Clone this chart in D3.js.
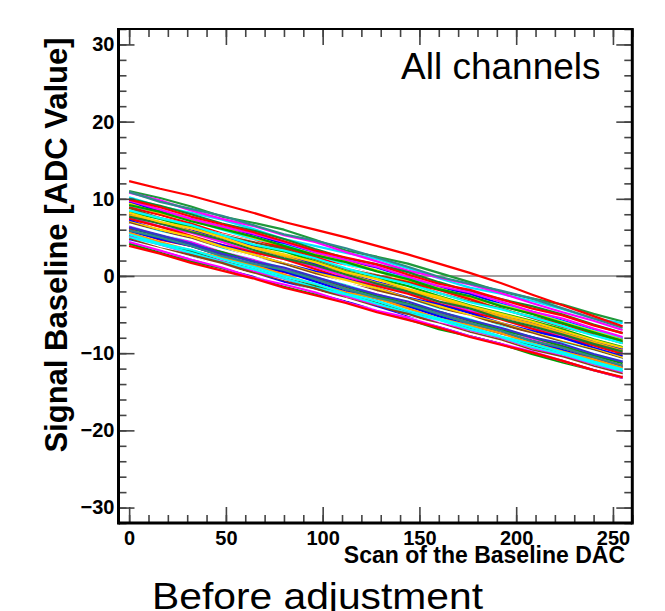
<!DOCTYPE html>
<html>
<head>
<meta charset="utf-8">
<script src="https://cdn.jsdelivr.net/npm/d3@7"></script>
<style>
  html, body { margin: 0; padding: 0; background: #fff; }
  svg { display: block; }
  text { font-family: "Liberation Sans", Arial, Helvetica, sans-serif; }
</style>
</head>
<body>
<svg id="chart" width="665" height="611"></svg>
<script>
// ---- data ----
const dacPoints = [0, 16, 32, 48, 64, 80, 96, 112, 128, 144, 160, 176, 192, 208, 224, 240, 255];
const xMajorTicks = [0, 50, 100, 150, 200, 250];
const yMajorTicks = [-30, -20, -10, 0, 10, 20, 30];
const channelColors = [
  "#1f9a3a", "#00e5ff", "#ff00ff", "#2e8b8b", "#138a2e", "#0000ff", "#00ffff", "#ffd000",
  "#ff0000", "#ff00ff", "#ffffff", "#8b4513", "#00b000", "#0000ff", "#00ffff", "#ffb000",
  "#ff00ff", "#ff0000", "#1f7a2f", "#0000ff", "#ffd000", "#8b4513", "#00ffff", "#ff00ff",
  "#ffffff", "#00a000", "#ff0000", "#0000ff", "#ff9900", "#2e8b8b", "#1f7a2f", "#ff00ff",
  "#00ffff", "#8b4513", "#0000ff", "#ffffff", "#00a000", "#ff00ff", "#ffd000", "#ff0000",
  "#3333cc", "#00a000", "#00ffff", "#ff0000", "#ff0000"
];
const channelValues = [
  [11.0, 10.1, 9.0, 7.7, 6.9, 6.0, 4.7, 3.3, 2.5, 1.6, 0.4, -0.8, -2.0, -2.9, -3.7, -4.9, -5.9],
  [10.2, 9.0, 8.2, 7.3, 6.1, 4.8, 3.9, 3.0, 2.2, 1.0, -0.3, -1.5, -2.3, -3.2, -4.3, -5.5, -6.1],
  [10.8, 9.8, 8.5, 7.4, 6.5, 5.3, 4.4, 3.1, 1.9, 0.7, -0.2, -1.1, -2.2, -3.5, -4.7, -5.8, -7.0],
  [10.9, 9.6, 8.7, 7.8, 6.6, 5.4, 4.6, 3.6, 2.4, 1.2, -0.1, -1.0, -1.9, -2.9, -4.2, -5.5, -6.7],
  [10.0, 9.1, 8.0, 6.8, 5.9, 4.8, 3.5, 2.3, 1.5, 0.5, -0.8, -2.0, -3.0, -3.9, -5.0, -6.3, -7.4],
  [9.6, 8.4, 7.3, 6.4, 5.4, 4.2, 2.9, 2.0, 1.1, -0.2, -1.4, -2.3, -3.6, -4.6, -5.8, -7.0, -8.1],
  [9.1, 8.2, 7.3, 6.0, 4.8, 4.0, 2.8, 1.5, 0.7, -0.3, -1.6, -2.8, -3.7, -4.7, -5.9, -7.1, -8.0],
  [9.4, 8.1, 7.3, 6.3, 5.0, 3.8, 2.8, 1.9, 0.7, -0.6, -1.6, -2.8, -3.8, -4.8, -6.0, -7.2, -8.3],
  [8.9, 7.9, 6.8, 5.5, 4.5, 3.7, 2.5, 1.2, 0.1, -0.8, -1.8, -3.0, -4.3, -5.3, -6.2, -7.5, -8.6],
  [9.8, 8.6, 7.4, 6.4, 5.5, 4.4, 3.1, 2.1, 1.2, -0.1, -1.3, -2.1, -3.3, -4.6, -5.5, -6.8, -7.9],
  [8.6, 7.6, 6.4, 5.4, 4.5, 3.3, 2.1, 1.2, 0.1, -1.2, -2.2, -3.4, -4.4, -5.7, -6.6, -7.8, -8.9],
  [8.8, 7.5, 6.6, 5.3, 4.4, 3.5, 2.2, 0.9, 0.1, -0.9, -2.2, -3.3, -4.2, -5.4, -6.6, -7.6, -8.7],
  [8.3, 7.4, 6.3, 5.0, 4.0, 3.2, 1.9, 0.6, -0.3, -1.3, -2.6, -3.8, -4.8, -5.8, -6.9, -8.2, -9.2],
  [8.0, 6.8, 5.9, 5.0, 3.8, 2.6, 1.6, 0.3, -0.8, -1.8, -2.8, -4.0, -5.2, -6.1, -7.2, -8.4, -9.5],
  [8.5, 7.5, 6.6, 5.3, 4.1, 3.3, 2.3, 1.0, -0.1, -1.0, -2.2, -3.4, -4.3, -5.3, -6.5, -7.7, -8.7],
  [7.9, 7.0, 5.8, 4.6, 3.7, 2.6, 1.3, 0.3, -0.9, -1.9, -2.9, -4.2, -5.2, -6.2, -7.4, -8.6, -9.7],
  [7.6, 6.4, 5.6, 4.4, 3.1, 2.2, 1.2, -0.1, -1.2, -2.1, -3.3, -4.5, -5.5, -6.8, -7.7, -8.9, -10.0],
  [7.4, 6.4, 5.2, 4.0, 3.1, 2.2, 0.9, -0.4, -1.3, -2.3, -3.6, -4.7, -5.6, -6.8, -8.0, -9.0, -10.1],
  [7.7, 6.8, 5.7, 4.7, 3.4, 2.3, 1.4, 0.2, -1.0, -2.0, -3.3, -4.2, -5.5, -6.5, -7.6, -8.8, -9.8],
  [7.2, 5.9, 5.0, 4.0, 2.8, 1.6, 0.6, -0.4, -1.6, -2.8, -3.7, -4.8, -6.1, -7.1, -8.0, -9.3, -10.4],
  [7.0, 6.0, 5.1, 3.8, 2.8, 1.6, 0.4, -0.5, -1.6, -2.9, -3.9, -5.1, -6.1, -7.3, -8.5, -9.5, -10.6],
  [6.9, 5.7, 4.8, 3.5, 2.3, 1.5, 0.3, -1.0, -1.9, -2.9, -4.2, -5.3, -6.2, -7.4, -8.6, -9.6, -10.8],
  [6.6, 5.7, 4.5, 3.5, 2.2, 1.3, 0.0, -1.0, -2.2, -3.1, -4.3, -5.5, -6.5, -7.8, -8.7, -9.8, -10.9],
  [6.4, 5.2, 4.4, 3.1, 2.1, 0.9, -0.1, -1.4, -2.3, -3.6, -4.6, -5.8, -6.8, -8.1, -9.0, -10.2, -11.2],
  [6.7, 5.6, 4.7, 3.4, 2.4, 1.3, 0.1, -0.9, -2.1, -3.1, -4.4, -5.3, -6.6, -7.6, -8.8, -9.8, -10.9],
  [6.2, 5.2, 4.0, 3.1, 1.9, 0.7, -0.2, -1.4, -2.6, -3.6, -4.6, -5.8, -7.0, -7.9, -9.1, -10.3, -11.3],
  [6.0, 4.7, 3.9, 2.7, 1.4, 0.5, -0.4, -1.7, -2.9, -3.9, -4.9, -6.1, -7.4, -8.4, -9.3, -10.6, -11.6],
  [5.8, 4.8, 3.9, 2.6, 1.4, 0.6, -0.7, -2.0, -2.9, -3.9, -5.2, -6.4, -7.4, -8.4, -9.6, -10.8, -11.8],
  [5.6, 4.4, 3.3, 2.4, 1.4, 0.2, -1.1, -2.1, -2.9, -4.2, -5.5, -6.4, -7.4, -8.7, -9.8, -10.8, -11.9],
  [5.9, 5.0, 3.9, 2.6, 1.6, 0.8, -0.4, -1.7, -2.8, -3.7, -4.9, -6.1, -7.1, -8.4, -9.3, -10.5, -11.6],
  [5.3, 4.1, 3.2, 1.9, 0.9, -0.3, -1.3, -2.3, -3.5, -4.7, -5.6, -6.8, -8.0, -8.9, -10.1, -11.3, -12.3],
  [5.1, 4.1, 2.9, 1.9, 0.6, -0.3, -1.6, -2.6, -3.8, -4.8, -6.1, -7.0, -8.0, -9.3, -10.4, -11.4, -12.5],
  [5.0, 4.1, 3.0, 1.8, 0.9, -0.3, -1.5, -2.4, -3.6, -4.8, -5.7, -6.9, -7.9, -9.2, -10.1, -11.3, -12.3],
  [4.8, 3.6, 2.7, 1.7, 0.4, -0.7, -1.6, -2.9, -4.0, -4.9, -6.2, -7.3, -8.3, -9.6, -10.5, -11.7, -12.7],
  [4.6, 3.3, 2.4, 1.1, 0.1, -0.8, -2.1, -3.3, -4.1, -5.3, -6.6, -7.5, -8.8, -9.8, -10.9, -11.9, -13.0],
  [4.5, 3.5, 2.4, 1.2, 0.2, -1.0, -2.0, -3.0, -4.2, -5.4, -6.3, -7.5, -8.5, -9.8, -10.7, -11.9, -12.9],
  [4.2, 3.0, 1.9, 1.0, -0.2, -1.4, -2.4, -3.4, -4.6, -5.6, -6.9, -7.8, -8.8, -10.1, -11.2, -12.2, -13.2],
  [4.4, 3.3, 2.1, 1.1, -0.2, -1.1, -2.1, -3.4, -4.5, -5.4, -6.6, -7.8, -8.8, -9.8, -11.0, -12.2, -13.2],
  [8.2, 7.0, 6.2, 5.0, 3.7, 2.8, 1.8, 0.5, -0.4, -1.7, -2.7, -3.9, -4.9, -5.9, -7.1, -8.3, -9.3],
  [9.9, 8.9, 7.7, 6.7, 5.7, 4.5, 3.3, 2.4, 1.5, 0.2, -1.0, -1.8, -3.0, -4.2, -5.1, -6.4, -7.4],
  [6.3, 5.3, 4.2, 2.9, 1.9, 1.1, -0.1, -1.3, -2.4, -3.3, -4.6, -5.7, -6.7, -7.9, -8.8, -10.1, -11.1],
  [9.2, 8.3, 7.1, 6.1, 5.1, 3.9, 2.7, 1.8, 0.6, -0.4, -1.7, -2.6, -3.9, -4.9, -6.1, -7.3, -8.4],
  [5.4, 4.2, 3.4, 2.2, 1.2, 0.0, -1.0, -2.3, -3.2, -4.5, -5.5, -6.6, -7.8, -8.8, -9.9, -11.1, -12.1],
  [3.9, 2.9, 1.7, 0.7, -0.3, -1.5, -2.5, -3.5, -4.7, -5.7, -6.7, -7.9, -8.9, -9.9, -11.0, -12.2, -13.1],
  [12.3, 11.3, 10.4, 9.3, 8.2, 7.0, 6.0, 5.0, 3.9, 2.8, 1.6, 0.4, -0.9, -2.4, -3.8, -5.2, -6.5]
];
const titleText = "All channels";
const xTitle = "Scan of the Baseline DAC";
const yTitle = "Signal Baseline [ADC Value]";
const captionText = "Before adjustment";

// ---- layout ----
const svg = d3.select("#chart");
const L = 118.5, R = 632.3, T = 29, B = 523;
const x = d3.scaleLinear().domain([-5.5, 260]).range([L, R]);
const y = d3.scaleLinear().domain([-32, 32]).range([B, T]);

const clipId = "plotclip";
svg.append("defs").append("clipPath").attr("id", clipId)
  .append("rect").attr("x", L).attr("y", T).attr("width", R - L).attr("height", B - T);

// zero line
svg.append("line")
  .attr("x1", L).attr("x2", R).attr("y1", y(0)).attr("y2", y(0))
  .attr("stroke", "#a0a0a0").attr("stroke-width", 2);

// channel lines
const line = d3.line().x((d, i) => x(dacPoints[i])).y(d => y(d));
svg.append("g").attr("clip-path", `url(#${clipId})`)
  .selectAll("path").data(channelValues).join("path")
  .attr("d", d => line(d))
  .attr("fill", "none")
  .attr("stroke", (d, i) => channelColors[i % channelColors.length])
  .attr("stroke-width", 2.2)
  .attr("stroke-linejoin", "round");

// axes
const fmt = d => (d < 0 ? "\u2212" + Math.abs(d) : String(d));
const xMinor = d3.range(0, 261, 10);
const yMinor = d3.range(-32, 33, 2);
const tickColor = "#444";

function styleAxis(g) {
  g.select(".domain").remove();
  g.selectAll(".tick line").attr("stroke", tickColor).attr("stroke-width", 1.6);
}
function styleLabels(g) {
  g.selectAll("text").attr("font-size", 20).attr("font-weight", "bold").attr("fill", "#000")
    .attr("font-family", "Liberation Sans, Arial, sans-serif");
}

// bottom
svg.append("g").attr("transform", `translate(0,${B})`)
  .call(d3.axisBottom(x).tickValues(xMinor).tickSizeInner(-8).tickSizeOuter(0).tickFormat(""))
  .call(styleAxis);
svg.append("g").attr("transform", `translate(0,${B})`)
  .call(d3.axisBottom(x).tickValues(xMajorTicks).tickSizeInner(-16).tickSizeOuter(0).tickPadding(8).tickFormat(fmt))
  .call(styleAxis).call(styleLabels);
// top
svg.append("g").attr("transform", `translate(0,${T})`)
  .call(d3.axisTop(x).tickValues(xMinor).tickSizeInner(-8).tickSizeOuter(0).tickFormat(""))
  .call(styleAxis);
svg.append("g").attr("transform", `translate(0,${T})`)
  .call(d3.axisTop(x).tickValues(xMajorTicks).tickSizeInner(-16).tickSizeOuter(0).tickFormat(""))
  .call(styleAxis);
// left
svg.append("g").attr("transform", `translate(${L},0)`)
  .call(d3.axisLeft(y).tickValues(yMinor).tickSizeInner(-8).tickSizeOuter(0).tickFormat(""))
  .call(styleAxis);
svg.append("g").attr("transform", `translate(${L},0)`)
  .call(d3.axisLeft(y).tickValues(yMajorTicks).tickSizeInner(-16).tickSizeOuter(0).tickPadding(4).tickFormat(fmt))
  .call(styleAxis).call(styleLabels);
// right
svg.append("g").attr("transform", `translate(${R},0)`)
  .call(d3.axisRight(y).tickValues(yMinor).tickSizeInner(-8).tickSizeOuter(0).tickFormat(""))
  .call(styleAxis);
svg.append("g").attr("transform", `translate(${R},0)`)
  .call(d3.axisRight(y).tickValues(yMajorTicks).tickSizeInner(-16).tickSizeOuter(0).tickFormat(""))
  .call(styleAxis);

// frame
svg.append("line").attr("x1", L).attr("x2", R).attr("y1", T).attr("y2", T).attr("stroke", "#000").attr("stroke-width", 2);
svg.append("line").attr("x1", L).attr("x2", R).attr("y1", B).attr("y2", B).attr("stroke", "#000").attr("stroke-width", 3);
svg.append("line").attr("x1", L).attr("x2", L).attr("y1", T - 1).attr("y2", B + 1.5).attr("stroke", "#000").attr("stroke-width", 3);
svg.append("line").attr("x1", R).attr("x2", R).attr("y1", T - 1).attr("y2", B + 1.5).attr("stroke", "#000").attr("stroke-width", 3);

// texts
svg.append("text").attr("x", 401).attr("y", 79)
  .attr("font-size", 37).attr("fill", "#000").text(titleText);
svg.append("text").attr("x", 625).attr("y", 563).attr("text-anchor", "end")
  .attr("font-size", 23).attr("font-weight", "bold").attr("fill", "#000").text(xTitle);
svg.append("text").attr("transform", "translate(67,245) rotate(-90)").attr("text-anchor", "middle")
  .attr("font-size", 31).attr("font-weight", "bold").attr("fill", "#000").text(yTitle);
svg.append("text").attr("x", 152).attr("y", 609)
  .attr("font-size", 37).attr("fill", "#000")
  .attr("textLength", 331).attr("lengthAdjust", "spacingAndGlyphs").text(captionText);
</script>
</body>
</html>
